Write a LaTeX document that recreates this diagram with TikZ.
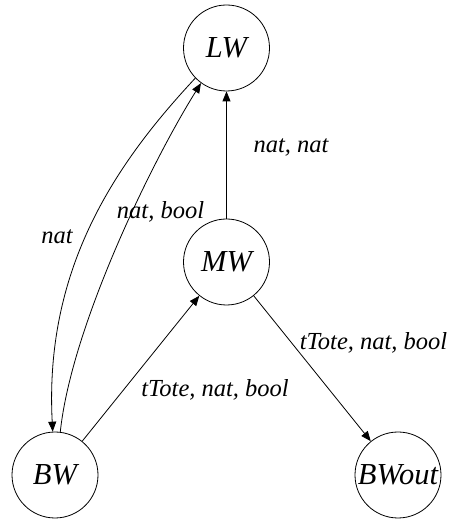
\documentclass[tikz,border=0pt]{standalone}
\usepackage{fontspec}
\setmainfont{Liberation Serif}
\usetikzlibrary{arrows.meta}
\begin{document}
\begin{tikzpicture}[x=1pt,y=1pt,
  state/.style={circle,draw,line width=0.8pt,minimum size=86pt,inner sep=0pt,
    font=\fontsize{30.5}{32}\selectfont\itshape},
  flow/.style={line width=0.8pt,-{Triangle[length=10pt,width=8pt]}},
  lbl/.style={font=\fontsize{24.5}{26}\selectfont\itshape,inner sep=0pt}]
  \useasboundingbox (0,0) rectangle (448,519);
  % states
  \node[state] (LW) at (226.5,471) {LW};
  \node[state] (MW) at (226.5,257) {MW};
  \node[state] (BW) at (55,44) {BW};
  \node[state] (BWout) at (398,44) {BWout};
  % transitions
  \draw[flow] (MW) -- (LW);
  \draw[flow] (LW.224) to[out=227,in=93,out distance=115pt,in distance=165pt] (BW.93);
  \draw[flow] (BW.83) to[out=84,in=238,out distance=105pt,in distance=95pt] (LW.234);
  \draw[flow] (BW) -- (MW);
  \draw[flow] (MW) -- (BWout);
  % channel labels
  \node[lbl] (l1) at (291,372) {nat, nat};
  \node[lbl] (l2) at (160.5,307) {nat, bool};
  \node[lbl] (l3) at (57,282) {nat};
  \node[lbl] (l4) at (215,129) {tTote, nat, bool};
  \node[lbl] (l5) at (373.5,176) {tTote, nat, bool};
\end{tikzpicture}
\end{document}
